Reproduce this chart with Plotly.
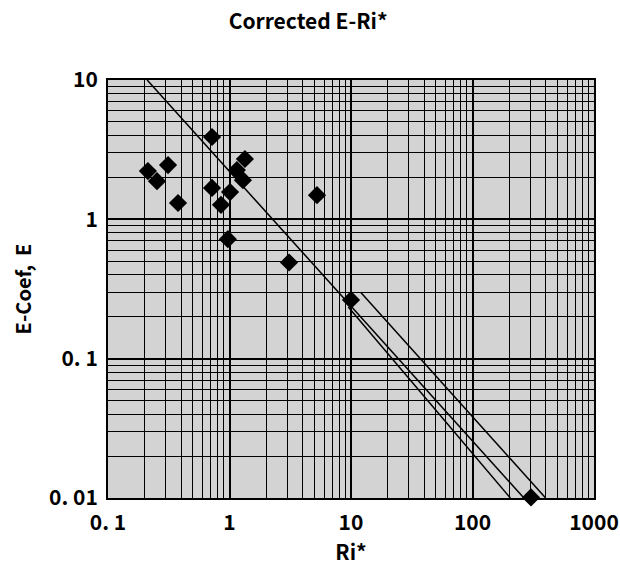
import plotly.graph_objects as go

# Measured points: Richardson number Ri* vs. entrainment coefficient E
ri_star = [0.213, 0.253, 0.312, 0.377, 0.718, 0.718, 0.851, 1.01, 0.97,
           1.15, 1.34, 1.29, 5.25, 3.09, 10.0, 303]
e_coef = [2.22, 1.88, 2.45, 1.31, 3.90, 1.68, 1.27, 1.57, 0.72,
          2.26, 2.71, 1.91, 1.49, 0.49, 0.264, 0.0101]

# Fitted relation and its bounding band (end points of each straight line)
fit_ri = [0.21, 265]
fit_e = [10, 0.01]
lower_ri = [9.5, 205]
lower_e = [0.235, 0.01]
upper_ri = [12, 400]
upper_e = [0.30, 0.01]

x_ticks = [0.1, 1, 10, 100, 1000]
x_labels = ["0. 1", "1", "10", "100", "1000"]
y_ticks = [0.01, 0.1, 1, 10]
y_labels = ["0. 01", "0. 1", "1", "10"]

FONT = "Noto Sans CJK JP"

fig = go.Figure()

for xs, ys in [(fit_ri, fit_e), (lower_ri, lower_e), (upper_ri, upper_e)]:
    fig.add_trace(go.Scatter(x=xs, y=ys, mode="lines",
                             line=dict(color="black", width=1.5),
                             showlegend=False, hoverinfo="skip"))

fig.add_trace(go.Scatter(x=ri_star, y=e_coef, mode="markers",
                         marker=dict(symbol="diamond", size=14, color="black",
                                     line=dict(width=0)),
                         cliponaxis=False, showlegend=False))

axis_common = dict(
    type="log", automargin=False,
    showline=True, linecolor="black", linewidth=2, mirror=True,
    showgrid=True, gridcolor="black", gridwidth=1.5,
    ticks="", zeroline=False,
    tickfont=dict(family=FONT, size=21, color="black", weight="bold"),
    minor=dict(showgrid=True, gridcolor="black", gridwidth=1.2, dtick="D1", ticks=""),
)

fig.update_xaxes(**axis_common, range=[-1, 3], tickmode="array",
                 tickvals=x_ticks, ticktext=x_labels, ticklabelstandoff=5,
                 title=dict(text="Ri*", standoff=4,
                            font=dict(family=FONT, size=21, color="black", weight="bold")))
fig.update_yaxes(**axis_common, range=[-2, 1], tickmode="array",
                 tickvals=y_ticks, ticktext=y_labels, ticklabelstandoff=4,
                 title=dict(text="E-Coef,  E", standoff=12,
                            font=dict(family=FONT, size=20, color="black", weight="bold")))

fig.update_layout(
    width=620, height=577,
    margin=dict(l=108, r=26, t=80, b=79),
    paper_bgcolor="white",
    plot_bgcolor="#d3d3d3",
    title=dict(text="Corrected E-Ri*", x=0.497, xanchor="center", y=0.963, yanchor="middle",
               font=dict(family=FONT, size=21, color="black", weight="bold")),
)

fig.write_html("out.html")
